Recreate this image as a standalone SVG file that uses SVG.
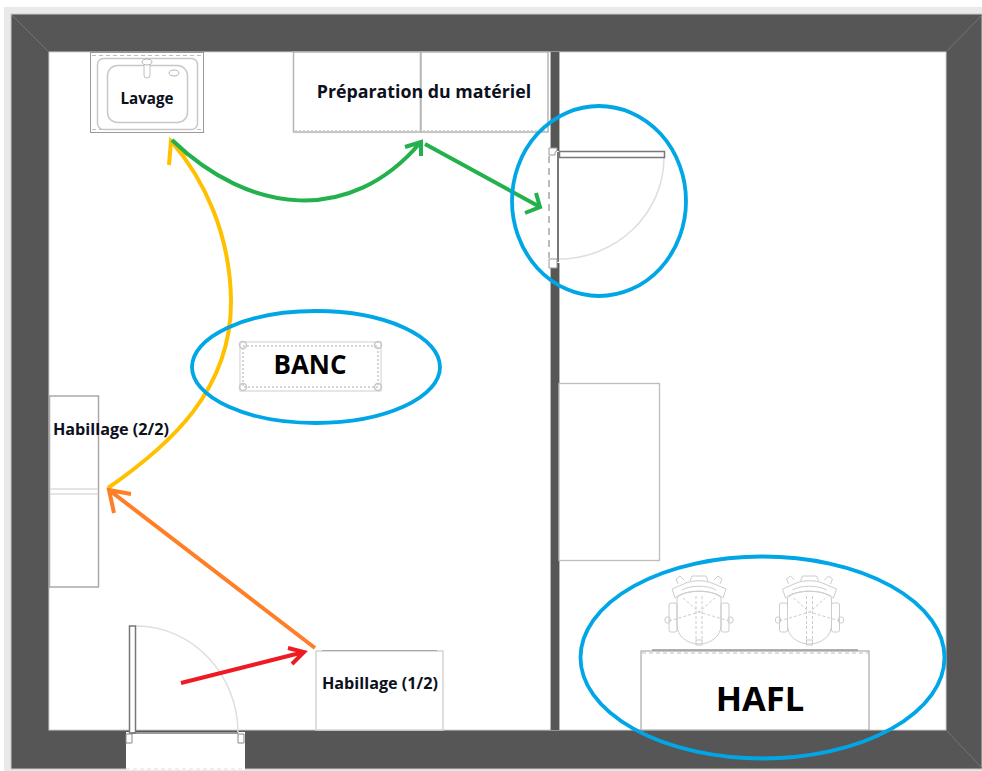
<svg xmlns="http://www.w3.org/2000/svg" width="982" height="771" viewBox="0 0 982 771">
<defs><style>
.lbl{font-family:"Open Sans","Noto Sans",sans-serif;font-weight:700;fill:#0c1020}
.big{fill:#000}
.furn{fill:#fff;stroke:#b4b4b4;stroke-width:1.5}
.thin{fill:none;stroke:#c8c8c8;stroke-width:1.5}
.dash{fill:none;stroke:#bdbdbd;stroke-width:1;stroke-dasharray:4 3}
.dot{fill:none;stroke:#c8c8c8;stroke-width:1.5;stroke-dasharray:2 2}
.arc{fill:none;stroke:#dedede;stroke-width:1.5}
.leaf{fill:#fff;stroke:#777;stroke-width:1.5}
.hoop{fill:none;stroke:#00a6e6;stroke-width:3.8}
.arrow{fill:none;stroke-width:4;stroke-linecap:butt;stroke-linejoin:miter}
</style>
<g id="chair"><g fill="none" stroke="#cccccc" stroke-width="1">
<rect x="669" y="603" width="8" height="29" rx="2"/><rect x="721" y="603" width="8" height="29" rx="2"/>
<rect x="665" y="617" width="5" height="6" rx="2"/><rect x="728" y="617" width="5" height="6" rx="2"/>
<path d="M677 598v27c0 11 10 19 22 19s22-8 22-19v-27c-7-9-37-9-44 0z"/>
<path d="M675 598l-3-9 14-6c8-3 18-3 26 0l14 6-3 9c-10-9-38-9-48 0z"/>
<path d="M682 590c8-5 26-5 34 0"/>
<path d="M678 584l-2-5 4-3 4 4M720 584l2-5-4-3-4 4M690 581l2-5h14l2 5"/>
<rect x="696" y="640" width="6" height="5"/>
</g><g fill="none" stroke="#cccccc" stroke-width="1" stroke-dasharray="3 2"><path d="M669 621l30-9 30 9M696 596v44M702 596v44M683 598l16 14 16-14"/></g></g>
</defs>
<rect width="982" height="771" fill="#fff"/>
<rect x="4" y="7" width="978" height="764" fill="#e9e9e9"/>
<g id="walls">
<rect x="11" y="14" width="971" height="755" fill="#565656"/>
<rect x="11" y="14" width="971" height="755" fill="none" stroke="#c9c9c9" stroke-width="1"/>
<rect x="49" y="52" width="897" height="678" fill="#fff" stroke="#cfcfcf" stroke-width="1"/>
<path d="M12 15L49 52M982 15L946 52M946 730L982 768" stroke="#747474" stroke-width="1" fill="none"/>
<rect x="551" y="52" width="8" height="678" fill="#565656"/>
<path d="M550.500 52V730M559.500 52V730" stroke="#b5b5b5" stroke-width="1"/>
<rect x="126" y="732" width="119" height="38" fill="#fff"/>
<rect x="549" y="151" width="12" height="112" fill="#fff"/>
</g>
<g id="lavage">
<rect x="90.500" y="52.500" width="113" height="80" fill="#fff" stroke="#9a9a9a" stroke-width="1"/>
<path class="dash" d="M92 55.500H202M92 129.500H202"/>
<rect x="97.500" y="58.500" width="100" height="71" rx="6" class="thin"/>
<rect x="107.500" y="65.500" width="80" height="57" rx="10" class="thin"/>
<rect x="144" y="62" width="6" height="16" rx="3" fill="#fff" stroke="#c0c0c0"/>
<ellipse cx="147" cy="62" rx="5" ry="3" fill="#fff" stroke="#b4b4b4"/>
<ellipse cx="174" cy="73" rx="5" ry="3" fill="#fff" stroke="#b4b4b4"/>
<text class="lbl" x="147" y="104" font-size="15.200" text-anchor="middle">Lavage</text>
</g>
<g id="preparation">
<rect x="293.500" y="52" width="127" height="80" class="furn"/>
<rect x="421" y="52" width="127" height="80" class="furn"/>
<path class="dot" d="M295 131H547"/>
<text class="lbl" x="424" y="98" font-size="17.800" text-anchor="middle">Préparation du matériel</text>
</g>
<g id="porte-cloison">
<path class="arc" d="M664 157C664 215 615 259 559 259"/>
<rect x="559.500" y="151.500" width="105" height="6" class="leaf"/>
<path d="M558 152V262" stroke="#777" stroke-width="2" fill="none"/>
<path d="M549 148h8v3a2 2 0 0 0-2 2v2h-6zM549 259h8v9h-8z" fill="#fff" stroke="#999"/>
<path d="M549 156V258" stroke="#bbb" stroke-width="2" stroke-dasharray="7 5" fill="none"/>
</g>
<g id="banc">
<rect x="240" y="342" width="141" height="49" fill="#fff" stroke="#cfcfcf"/>
<rect x="243" y="346" width="135" height="41" class="dot"/>
<circle cx="243" cy="345" r="3.500" class="thin" stroke-width="1"/><circle cx="378" cy="345" r="3.500" class="thin"/><circle cx="243" cy="387" r="3.500" class="thin"/><circle cx="378" cy="387" r="3.500" class="thin"/>
<text class="lbl big" x="310" y="374" font-size="26" text-anchor="middle">BANC</text>
</g>
<g id="habillage-2">
<rect x="49.500" y="396" width="49" height="191" fill="#fff" stroke="#a9a9a9" stroke-width="1.500"/>
<path d="M50 489H98M50 494H98" stroke="#dcdcdc" stroke-width="1.500"/>
<text class="lbl" x="111" y="435" font-size="16.200" text-anchor="middle">Habillage (2/2)</text>
</g>
<g id="habillage-1">
<rect x="316" y="651" width="127" height="79" fill="#fff" stroke="#d4d4d4" stroke-width="1.500"/>
<path d="M322 650.500H437" stroke="#aaa" stroke-width="1"/>
<text class="lbl" x="380" y="689" font-size="16.200" text-anchor="middle">Habillage (1/2)</text>
</g>
<g id="porte-entree">
<path class="arc" d="M136 626C193 626 238 675 238 733"/>
<rect x="129.500" y="626" width="6" height="107" class="leaf"/>
<path d="M131 733H238" stroke="#777" stroke-width="1.500"/>
<path d="M126 734h6v9h-6zM238 734h6v9h-6z" fill="#fff" stroke="#888"/>
<path d="M126 769H245" stroke="#ddd" stroke-dasharray="4 3"/>
</g>
<g id="plan-sud">
<rect x="559" y="383.500" width="100.500" height="177" fill="#fff" stroke="#bdbdbd" stroke-width="1.300"/>
</g>
<g id="hafl">
<use href="#chair"/><use href="#chair" x="110.500"/>
<rect x="641" y="651" width="228" height="79" fill="#fff" stroke="#999" stroke-width="1"/>
<path d="M652 650H858" stroke="#999" stroke-width="1.500"/>
<path d="M642 653H868" class="dash"/>
<text class="lbl big" x="760" y="711" font-size="34.500" text-anchor="middle">HAFL</text>
</g>
<g id="connecteurs">
<path class="arrow" stroke="#ffc000" d="M108 488C170 445 232 390 231 300C230 235 205 180 171 141M169 165L171 141L188 155"/>
<path class="arrow" stroke="#ff7f27" d="M315 648L109 490M131 494L109 490L114 513"/>
<path class="arrow" stroke="#ed1c24" d="M181 683L304 652M288 648L304 652L292 664"/>
<path class="arrow" stroke="#22b14c" d="M172 140C250 215 350 225 420 143M405 147L421 142L421 156"/>
<path class="arrow" stroke="#22b14c" d="M425 144L540 207M536 193L540 207L525 213"/>
</g>
<g id="reperes">
<ellipse class="hoop" cx="599" cy="201" rx="87" ry="95"/>
<ellipse class="hoop" cx="316" cy="367" rx="124" ry="56"/>
<ellipse class="hoop" cx="762.500" cy="657.500" rx="182" ry="101"/>
</g>
</svg>
